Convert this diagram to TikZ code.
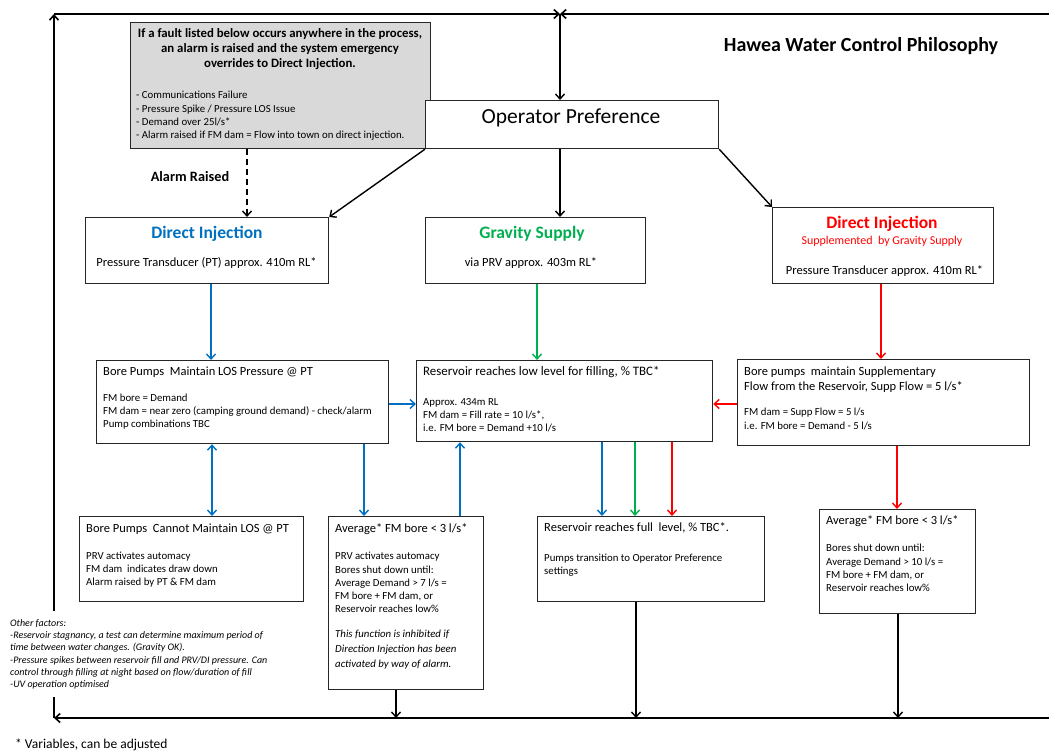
\documentclass[tikz,border=0pt]{standalone}
\usepackage{fontspec}
\setmainfont{Carlito}
\usetikzlibrary{arrows.meta}
\definecolor{diblue}{HTML}{0070C0}
\definecolor{gsgreen}{HTML}{00B050}
\definecolor{dired}{HTML}{FF0000}
\definecolor{greyfill}{HTML}{D9D9D9}
\newcommand{\fsz}[2]{\fontsize{#1}{#2}\selectfont}
\begin{document}
\begin{tikzpicture}[x=1pt,y=-1pt,
  box/.style={draw=black!85, line width=1.2pt, inner sep=0, anchor=north west},
  tl/.style={inner sep=0, anchor=base west},
  tc/.style={inner sep=0, anchor=base},
  grp/.style={inner sep=0, anchor=north west, align=left},
  arr/.style={line width=1.4pt, -{Straight Barb[length=5pt,width=9pt]}},
  frame/.style={line width=1.6pt},
  body/.style={font=\fsz{12.5}{15}},
  small/.style={font=\fsz{10.8}{13}}
]
\useasboundingbox[fill=white] (0,0) rectangle (1049,751);

% frame coordinates
\coordinate (tlc) at (54,14);
\coordinate (trc) at (1049,14);
\coordinate (tmc) at (560,14);
\coordinate (blc) at (54,718);
\coordinate (brc) at (1049,718);
\coordinate (gapTop) at (54,611);
\coordinate (gapBot) at (54,697);
\coordinate (bm1) at (396,718);
\coordinate (bm2) at (636,718);
\coordinate (bm3) at (898,718);

% boxes
\node[box, fill=greyfill, minimum width=300, minimum height=126] (grey) at (130,22) {};
\node[box, fill=white, minimum width=293, minimum height=48] (op) at (425,100) {};
\node[box, minimum width=243, minimum height=66] (dil) at (85,217) {};
\node[box, minimum width=220, minimum height=66] (grav) at (425,217) {};
\node[box, minimum width=221, minimum height=76] (dir) at (772,207) {};
\node[box, minimum width=292, minimum height=83] (bp) at (96,360) {};
\node[box, minimum width=296, minimum height=81] (rlow) at (416,360) {};
\node[box, minimum width=292, minimum height=86] (supp) at (737,359) {};
\node[box, minimum width=224, minimum height=85] (cannot) at (79,516) {};
\node[box, minimum width=155, minimum height=173] (avgm) at (328,516) {};
\node[box, minimum width=227, minimum height=85] (rfull) at (537,516) {};
\node[box, minimum width=156, minimum height=104] (avgr) at (819,509) {};

% texts
\node[grp, anchor=north, align=center, font=\fsz{12.8}{15}\bfseries] (greyT) at (280,26.6)
  {\strut If a fault listed below occurs anywhere in the process,\\an alarm is raised and the system emergency\\overrides to Direct Injection.};
\node[grp, font=\fsz{10.8}{13.3}] (greyL) at (136,89.2)
  {\strut - Communications Failure\\- Pressure Spike / Pressure LOS Issue\\- Demand over 25l/s*\\- Alarm raised if FM dam = Flow into town on direct injection.};
\node[tc, font=\fsz{21.5}{26}] (opT) at (571,124) {Operator Preference};
\node[tc, font=\fsz{20}{24}\bfseries] (title) at (861,51.4) {Hawea Water Control Philosophy};
\node[tc, font=\fsz{14.3}{17}\bfseries] (alarm) at (190,181.6) {Alarm Raised};

\node[tc, font=\fsz{17.5}{21}\bfseries, text=diblue] (dilT) at (207,238.6) {Direct Injection};
\node[tc, body] (dilS) at (206.5,267) {Pressure Transducer (PT) approx. 410m RL*};
\node[tc, font=\fsz{17.5}{21}\bfseries, text=gsgreen] (gravT) at (532,238.6) {Gravity Supply};
\node[tc, body] (gravS) at (531,267) {via PRV approx. 403m RL*};
\node[tc, font=\fsz{17.5}{21}\bfseries, text=dired] (dirT) at (882,228.6) {Direct Injection};
\node[tc, font=\fsz{12}{14}, text=dired] (dirU) at (882,244.8) {Supplemented\ \ by Gravity Supply};
\node[tc, body] (dirS) at (884.5,275) {Pressure Transducer approx. 410m RL*};

\node[tl, body] (bpT) at (103,375) {Bore Pumps\ \ Maintain LOS Pressure @ PT};
\node[grp, small] (bpL) at (103,392.4)
  {\strut FM bore = Demand\\FM dam = near zero (camping ground demand) - check/alarm\\Pump combinations TBC};
\node[tl, font=\fsz{12.9}{15}] (rlowT) at (423,375) {Reservoir reaches low level for filling, \% TBC*};
\node[grp, small] (rlowL) at (423,396.4)
  {\strut Approx. 434m RL\\FM dam = Fill rate = 10 l/s*,\\i.e. FM bore = Demand +10 l/s};
\node[grp, body] (suppT) at (744,364.5)
  {\strut Bore pumps\ \ maintain Supplementary\\Flow from the Reservoir, Supp Flow = 5 l/s*};
\node[grp, font=\fsz{10.8}{14}] (suppL) at (744,405.7)
  {\strut FM dam = Supp Flow = 5 l/s\\i.e. FM bore = Demand - 5 l/s};

\node[tl, body] (canT) at (86,532) {Bore Pumps\ \ Cannot Maintain LOS @ PT};
\node[grp, small] (canL) at (86,550.4)
  {\strut PRV activates automacy\\FM dam\ \ indicates draw down\\Alarm raised by PT \& FM dam};
\node[tl, body] (avgmT) at (335,532) {Average* FM bore < 3 l/s*};
\node[grp, font=\fsz{10.8}{13.25}] (avgmL) at (335,550.4)
  {\strut PRV activates automacy\\Bores shut down until:\\Average Demand > 7 l/s =\\FM bore + FM dam, or\\Reservoir reaches low\%};
\node[grp, font=\fsz{10.8}{15}\itshape] (avgmI) at (335,627)
  {\strut This function is inhibited if\\Direction Injection has been\\activated by way of alarm.};
\node[tl, body] (rfullT) at (544,531) {Reservoir reaches full\ \ level, \% TBC*.};
\node[grp, small] (rfullL) at (544,552.4)
  {\strut Pumps transition to Operator Preference\\settings};
\node[tl, body] (avgrT) at (826,524) {Average* FM bore < 3 l/s*};
\node[grp, font=\fsz{10.8}{13.3}] (avgrL) at (826,542.2)
  {\strut Bores shut down until:\\Average Demand > 10 l/s =\\FM bore + FM dam, or\\Reservoir reaches low\%};

\node[grp, font=\fsz{10}{12.2}\itshape] (other) at (10,617.7)
  {\strut Other factors:\\-Reservoir stagnancy, a test can determine maximum period of\\time between water changes. (Gravity OK).\\-Pressure spikes between reservoir fill and PRV/DI pressure. Can\\control through filling at night based on flow/duration of fill\\-UV operation optimised};
\node[tl, font=\fsz{13.5}{16}] (vars) at (15,748.3) {* Variables, can be adjusted};

% frame lines
\draw[frame, -{Straight Barb[length=5pt,width=9pt]}] (gapTop) -- (tlc);
\draw[frame, -{Straight Barb[length=5pt,width=9pt]}] (tlc) -- (tmc);
\draw[frame, -{Straight Barb[length=5pt,width=9pt]}] (trc) -- (tmc);
\draw[arr] (tmc) -- (op.north -| tmc);
\draw[frame, -{Straight Barb[length=5pt,width=9pt]}] (brc) -- (blc);
\draw[frame] (gapBot) -- (blc);

% top connectors
\draw[arr, dashed, dash pattern=on 6pt off 4pt] (grey.south -| 247,0) -- (dil.north -| 247,0);
\draw[arr] (op.south west) -- (dil.north east);
\draw[arr] (op.south -| tmc) -- (grav.north -| tmc);
\draw[arr] (op.south east) -- (dir.north west);

% coloured connectors
\draw[arr, diblue] (dil.south -| 211,0) -- (bp.north -| 211,0);
\draw[arr, gsgreen] (grav.south -| 537,0) -- (rlow.north -| 537,0);
\draw[arr, dired] (dir.south -| 881,0) -- (supp.north -| 881,0);
\draw[arr, diblue] (bp.east |- 0,404) -- (rlow.west |- 0,404);
\draw[arr, dired] (supp.west |- 0,404) -- (rlow.east |- 0,404);
\draw[arr, diblue, {Straight Barb[length=5pt,width=9pt]}-{Straight Barb[length=5pt,width=9pt]}] (bp.south -| 212,0) -- (cannot.north -| 212,0);
\draw[arr, diblue] (bp.south -| 364,0) -- (avgm.north -| 364,0);
\draw[arr, diblue] (avgm.north -| 460,0) -- (rlow.south -| 460,0);
\draw[arr, diblue] (rlow.south -| 602,0) -- (rfull.north -| 602,0);
\draw[arr, gsgreen] (rlow.south -| 635,0) -- (rfull.north -| 635,0);
\draw[arr, dired] (rlow.south -| 672,0) -- (rfull.north -| 672,0);
\draw[arr, dired] (supp.south -| 897,0) -- (avgr.north -| 897,0);

% to bottom line
\draw[arr] (avgm.south -| bm1) -- (bm1);
\draw[arr] (rfull.south -| bm2) -- (bm2);
\draw[arr] (avgr.south -| bm3) -- (bm3);
\end{tikzpicture}
\end{document}
